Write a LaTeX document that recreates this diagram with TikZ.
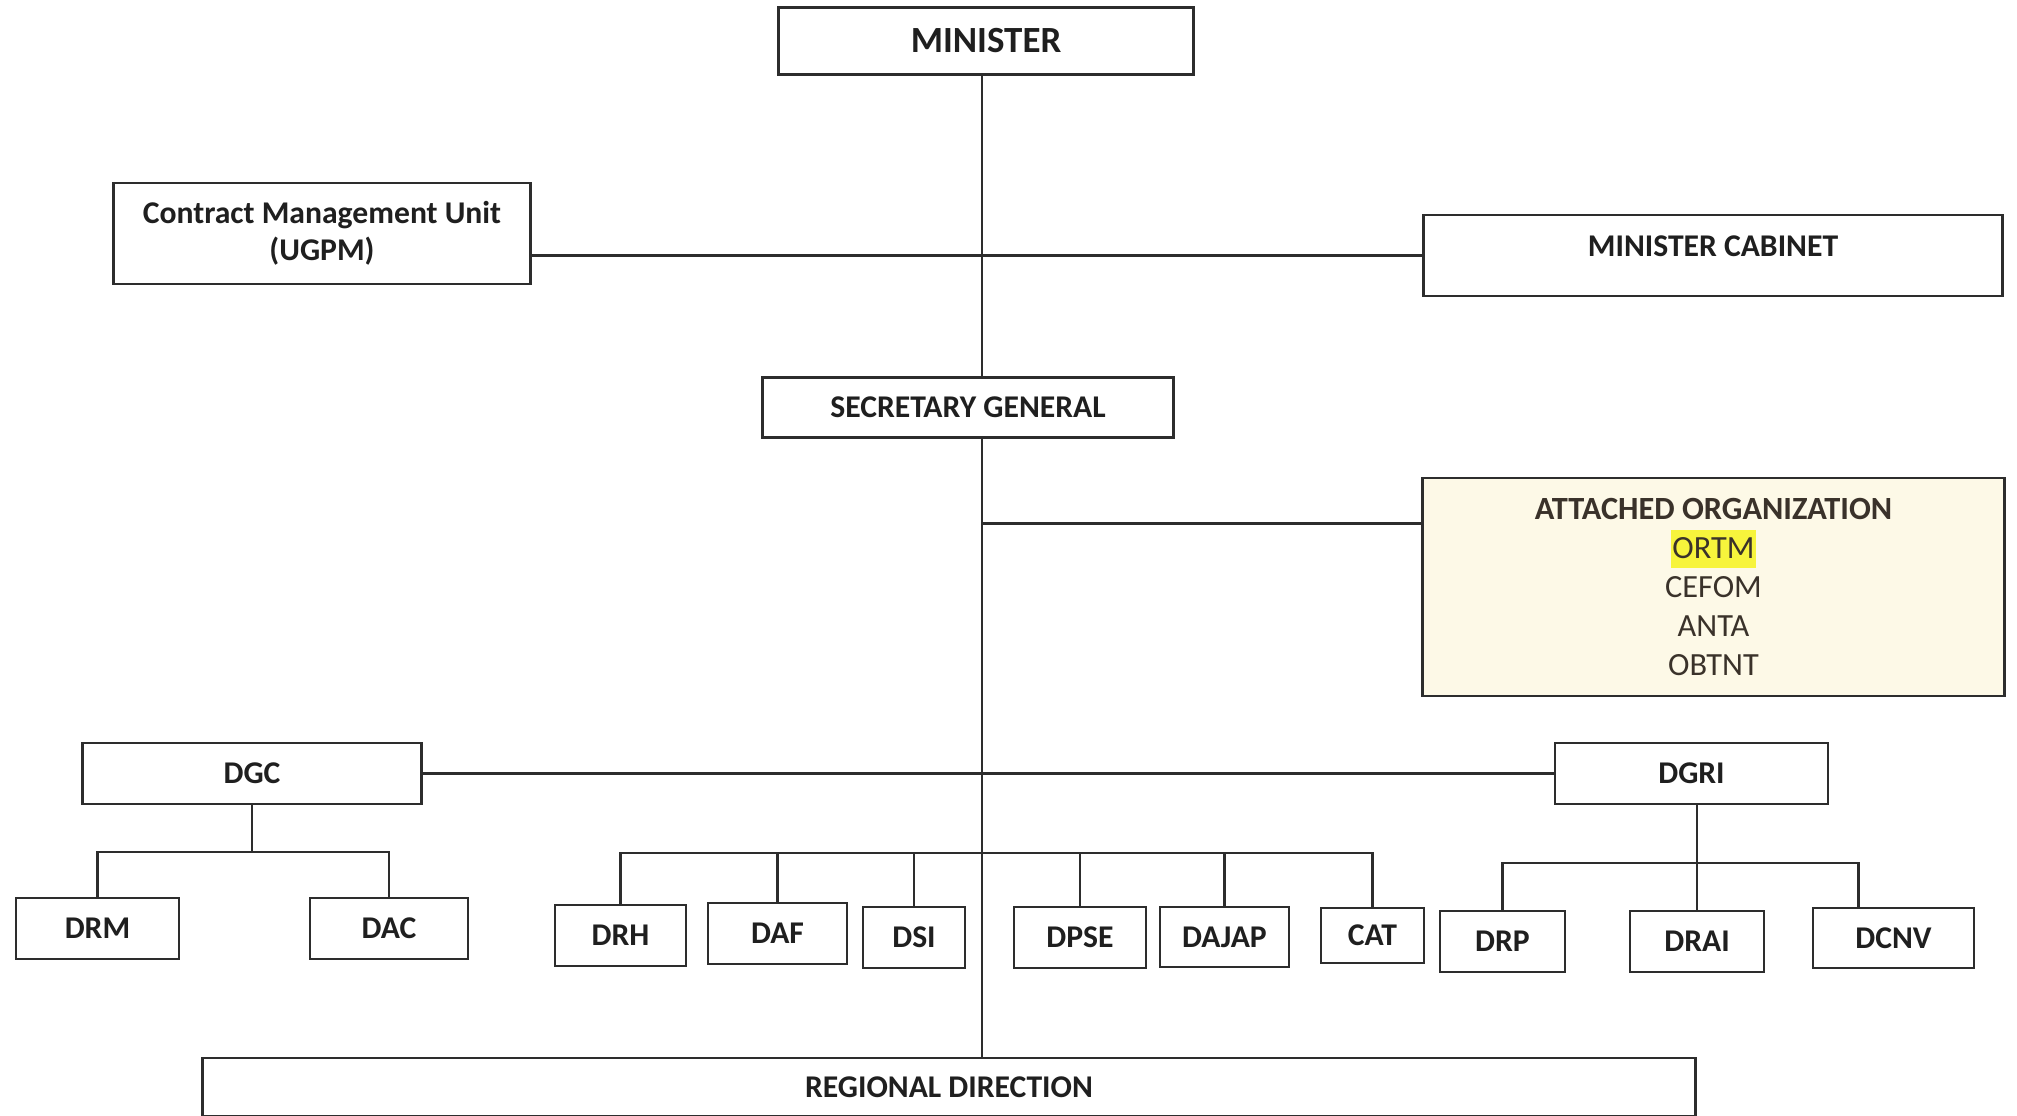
\documentclass[tikz,border=0pt]{standalone}
\usepackage{fontspec}
\setmainfont{Carlito}
\usetikzlibrary{calc}

\definecolor{inkgray}{RGB}{45,45,45}
\definecolor{attfill}{RGB}{253,249,231}
\definecolor{atttext}{RGB}{58,50,42}
\definecolor{hilite}{RGB}{247,244,60}

\tikzset{
  unit/.style={draw=inkgray, line width=0.8pt, fill=white, inner sep=0pt,
    text=black!88, font=\bfseries\fontsize{9}{10.6}\selectfont},
  link/.style={draw=inkgray, line width=0.6pt},
}

\begin{document}
\begin{tikzpicture}[x=0.01cm, y=-0.01cm]
    \useasboundingbox (0,0) rectangle (2017,1116);

    % top level
    \node[unit, minimum width=4.14cm, minimum height=0.67cm,
      font=\bfseries\fontsize{10.5}{12}\selectfont] (min) at (986,41) {MINISTER};
    \node[unit, minimum width=4.16cm, minimum height=1.01cm, align=center] (cmu) at (322,233.5)
      {Contract Management Unit\\(UGPM)};
    \node[unit, minimum width=5.78cm, minimum height=0.81cm,
      text height=6.2pt, text depth=5.7pt] (cab) at (1713,255.5) {MINISTER CABINET};
    \node[unit, minimum width=4.10cm, minimum height=0.60cm] (sg) at (968,407.5) {SECRETARY GENERAL};

    \setlength{\fboxsep}{0.4pt}
    \node[unit, fill=attfill, minimum width=5.82cm, minimum height=2.18cm, align=center,
      text=atttext, font=\fontsize{9.2}{11.1}\selectfont] (att) at (1713.5,587)
      {\textbf{ATTACHED ORGANIZATION}\\
       \colorbox{hilite}{\rule[-2.4pt]{0pt}{10pt}ORTM}\\
       CEFOM\\ ANTA\\ OBTNT};

    % general directorates
    \node[unit, minimum width=3.39cm, minimum height=0.61cm] (dgc) at (252,773.5) {DGC};
    \node[unit, minimum width=2.73cm, minimum height=0.61cm] (dgri) at (1691.5,773.5) {DGRI};

    % directorates
    \node[unit, minimum width=1.63cm, minimum height=0.61cm] (drm) at (97.5,928.5) {DRM};
    \node[unit, minimum width=1.58cm, minimum height=0.61cm] (dac) at (389,928.5) {DAC};

    \node[unit, minimum width=1.31cm, minimum height=0.61cm] (drh) at (620.5,935.5) {DRH};
    \node[unit, minimum width=1.39cm, minimum height=0.61cm] (daf) at (777.5,933.5) {DAF};
    \node[unit, minimum width=1.02cm, minimum height=0.61cm] (dsi) at (914,937.5) {DSI};
    \node[unit, minimum width=1.32cm, minimum height=0.61cm] (dpse) at (1080,937.5) {DPSE};
    \node[unit, minimum width=1.29cm, minimum height=0.60cm] (dajap) at (1224.5,937) {DAJAP};
    \node[unit, minimum width=1.03cm, minimum height=0.55cm] (cat) at (1372.5,935.5) {CAT};

    \node[unit, minimum width=1.25cm, minimum height=0.61cm] (drp) at (1502.5,941.5) {DRP};
    \node[unit, minimum width=1.34cm, minimum height=0.61cm] (drai) at (1697,941.5) {DRAI};
    \node[unit, minimum width=1.61cm, minimum height=0.60cm] (dcnv) at (1893.5,938) {DCNV};

    \node[unit, minimum width=14.92cm, minimum height=0.58cm] (rd) at (949,1087) {REGIONAL DIRECTION};

    % connectors
    \coordinate (trunk) at (982,0);
    \coordinate (busL) at (0,852);
    \coordinate (busM) at (0,853);
    \coordinate (busR) at (0,863);
    \coordinate (attin) at ($(att.north west)+(0,47)$);
    \coordinate (dcnvin) at ($(dcnv.north)+(-35,0)$);

    \draw[link] (min.south -| trunk) -- (sg.north -| trunk);
    \draw[link] (sg.south -| trunk) -- (rd.north -| trunk);
    \draw[link] (cmu.east |- cab.west) -- (cab.west);
    \draw[link] (attin -| trunk) -- (attin);
    \draw[link] (dgc.east) -- (dgri.west);

    \draw[link] (dgc.south) -- (dgc.south |- busL);
    \draw[link] (drm.north) -- (drm.north |- busL) -- (dac.north |- busL) -- (dac.north);

    \draw[link] (drh.north) -- (drh.north |- busM) -- (cat.north |- busM) -- (cat.north);
    \foreach \d in {daf,dsi,dpse,dajap}
      \draw[link] (\d.north) -- (\d.north |- busM);

    \draw[link] (drai.north |- dgri.south) -- (drai.north);
    \draw[link] (drp.north) -- (drp.north |- busR) -- (dcnvin |- busR) -- (dcnvin);
\end{tikzpicture}
\end{document}
